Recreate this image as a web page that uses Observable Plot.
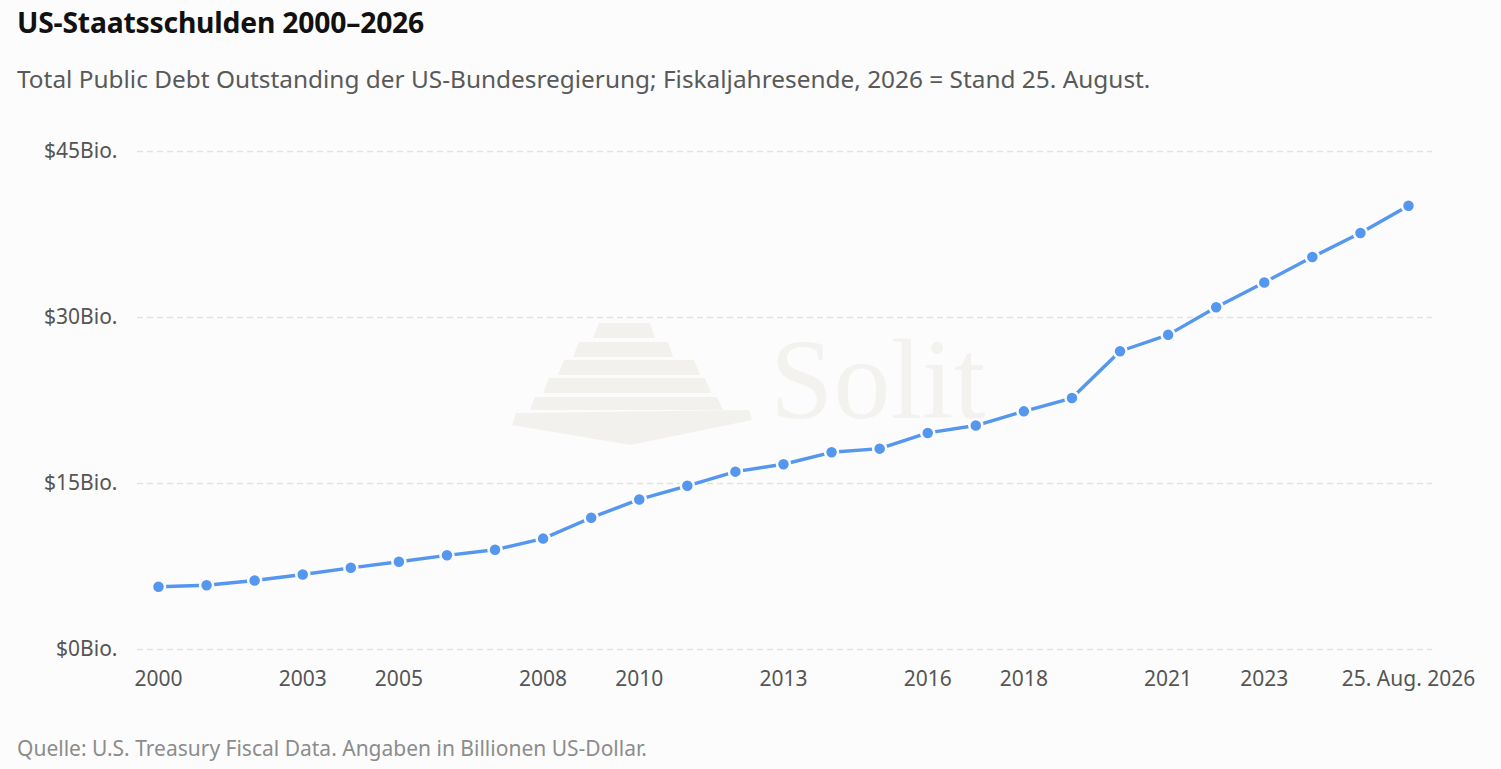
<!DOCTYPE html>
<html>
<head>
<meta charset="utf-8">
<script src="https://cdn.jsdelivr.net/npm/d3@7"></script>
<script src="https://cdn.jsdelivr.net/npm/@observablehq/plot@0.6"></script>
<style>
  html, body { margin: 0; padding: 0; background: #fcfcfc; }
  body { width: 1501px; height: 769px; position: relative; overflow: hidden; font-family: "Noto Sans", "Open Sans", sans-serif; }
  #title { position: absolute; left: 17px; top: 3px; font-size: 28.3px; font-weight: 700; color: #111; letter-spacing: -0.2px; }
  #subtitle { position: absolute; left: 17px; top: 62px; font-size: 24.4px; color: #595959; }
  #wm { position: absolute; left: 0; top: 0; }
  #chart { position: absolute; left: 0; top: 110px; }
  #caption { position: absolute; left: 17px; top: 734px; font-size: 21px; color: #8c8c8c; }
</style>
</head>
<body>
<svg id="wm" width="1501" height="769">
  <g fill="#f3f1ee">
    <polygon points="599,323 650,323 655,338 593,338"/>
    <polygon points="579,342 668,342 673,357 573,357"/>
    <polygon points="564,360 694,360 700,375 558,375"/>
    <polygon points="549,378 705,378 711,393 543,393"/>
    <polygon points="535,397 717,397 723,410 530,410"/>
    <polygon points="516,413 749,410 752,420 630,445 512,425"/>
  </g>
  <text x="770" y="418" font-family="'Liberation Serif', 'DejaVu Serif', serif" font-size="114" fill="#f4f2ef">Solit</text>
</svg>
<div id="title">US-Staatsschulden 2000–2026</div>
<div id="subtitle">Total Public Debt Outstanding der US-Bundesregierung; Fiskaljahresende, 2026 = Stand 25. August.</div>
<div id="chart"></div>
<div id="caption">Quelle: U.S. Treasury Fiscal Data. Angaben in Billionen US-Dollar.</div>
<script>
const years = [2000,2001,2002,2003,2004,2005,2006,2007,2008,2009,2010,2011,2012,2013,2014,2015,2016,2017,2018,2019,2020,2021,2022,2023,2024,2025,2026];
const debt = [5.67,5.81,6.23,6.78,7.38,7.93,8.51,9.01,10.02,11.91,13.56,14.79,16.07,16.74,17.82,18.15,19.57,20.24,21.52,22.72,26.95,28.43,30.93,33.17,35.46,37.64,40.1];
const xTicks = [2000,2003,2005,2008,2010,2013,2016,2018,2021,2023,2026];
const xTickLabels = ["2000","2003","2005","2008","2010","2013","2016","2018","2021","2023","25. Aug. 2026"];
const yTicks = [0,15,30,45];

const data = years.map((y, i) => ({year: y, value: debt[i]}));
const labelOf = new Map(xTicks.map((t, i) => [t, xTickLabels[i]]));

const plot = Plot.plot({
  width: 1501,
  height: 599,
  marginLeft: 137,
  marginRight: 69,
  marginTop: 41,
  marginBottom: 60,
  insetLeft: 21,
  insetRight: 24,
  style: { background: "transparent", fontFamily: "'Noto Sans', 'Open Sans', sans-serif", fontSize: "21px", color: "#555" },
  x: { domain: [2000, 2026], ticks: xTicks, tickFormat: d => labelOf.get(d), label: null },
  y: { domain: [0, 45], ticks: yTicks, tickFormat: d => `$${d}Bio.`, label: null },
  marks: [
    Plot.ruleY(yTicks, { stroke: "#e2e2e2", strokeWidth: 1.3, strokeDasharray: "6,4" }),
    Plot.axisY({ ticks: yTicks, tickSize: 0, tickPadding: 20, tickFormat: d => `$${d}Bio.`, fill: "#555", fontSize: 21 }),
    Plot.axisX({ ticks: xTicks, tickSize: 0, tickPadding: 22, tickFormat: d => labelOf.get(d), fill: "#555", fontSize: 21 }),
    Plot.line(data, { x: "year", y: "value", stroke: "#5596ee", strokeWidth: 3.4 }),
    Plot.dot(data, { x: "year", y: "value", r: 6.5, fill: "#5596ee", stroke: "#fcfcfc", strokeWidth: 2.5 })
  ]
});
document.getElementById("chart").appendChild(plot);
</script>
</body>
</html>
